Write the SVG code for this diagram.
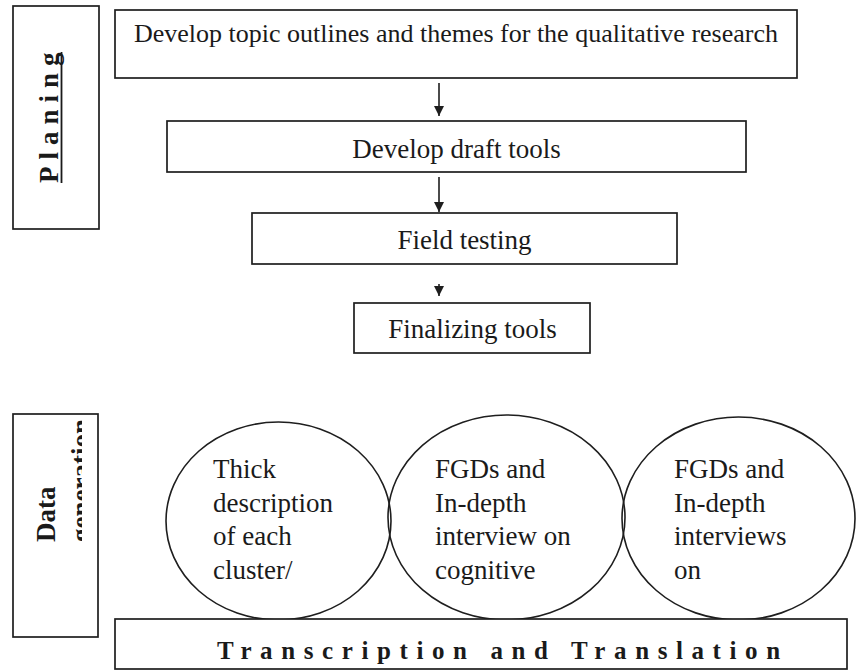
<svg xmlns="http://www.w3.org/2000/svg" width="857" height="672" viewBox="0 0 857 672">
<style>
.box{fill:#fff;stroke:#1e1e1e;stroke-width:1.7}
.ell{fill:none;stroke:#1e1e1e;stroke-width:1.6}
.t{font-family:"Liberation Serif","Times New Roman",serif;fill:#1a1a1a}
.lbl{font-size:27px;text-anchor:middle}
.cir{font-size:27px}
.side{font-weight:bold;font-size:27px}
.conn{stroke:#1e1e1e;stroke-width:1.6;fill:none}
</style>
<defs>
<marker id="ah" viewBox="0 0 10 10" refX="10" refY="5" markerWidth="10" markerHeight="10" markerUnits="userSpaceOnUse" orient="auto">
<path d="M0,0 L10,5 L0,10 z" fill="#1e1e1e"/>
</marker>
<clipPath id="clipGen"><rect x="60" y="414" width="22" height="140"/></clipPath>
</defs>
<rect width="857" height="672" fill="#fff"/>

<g id="planing">
<rect class="box" x="13" y="6" width="86" height="223"/>
<text class="t side" transform="translate(58,183) rotate(-90)" letter-spacing="7">Planing</text>
<line x1="61.5" y1="52" x2="61.5" y2="183" stroke="#1a1a1a" stroke-width="1.8"/>
</g>

<g id="topics">
<rect class="box" x="115" y="10" width="682" height="68"/>
<text class="t" x="456" y="42" font-size="26" text-anchor="middle">Develop topic outlines and themes for the qualitative research</text>
</g>

<g id="draft">
<rect class="box" x="167" y="121" width="579" height="51"/>
<text class="t lbl" x="456.5" y="158">Develop draft tools</text>
</g>

<g id="field">
<rect class="box" x="252" y="213" width="425" height="51"/>
<text class="t lbl" x="464.5" y="249">Field testing</text>
</g>

<g id="final">
<rect class="box" x="354" y="303" width="236" height="50"/>
<text class="t lbl" x="472.5" y="338">Finalizing tools</text>
</g>

<g id="connectors">
<line class="conn" x1="439" y1="83" x2="439" y2="116" marker-end="url(#ah)"/>
<line class="conn" x1="439" y1="177" x2="439" y2="212" marker-end="url(#ah)"/>
<line class="conn" x1="439" y1="284" x2="439" y2="296" marker-end="url(#ah)"/>
</g>

<g id="data">
<rect class="box" x="13" y="414" width="85" height="223"/>
<text class="t side" transform="translate(55,542) rotate(-90)">Data</text>
<g clip-path="url(#clipGen)">
<text class="t side" transform="translate(89.5,542) rotate(-90)">generation</text>
</g>
</g>

<g id="thick">
<ellipse class="ell" cx="278.5" cy="521" rx="112.5" ry="99"/>
<text class="t cir" x="213" y="478">Thick</text>
<text class="t cir" x="213" y="511.5">description</text>
<text class="t cir" x="213" y="545">of each</text>
<text class="t cir" x="213" y="578.5">cluster/</text>
</g>

<g id="fgd-cognitive">
<ellipse class="ell" cx="506.5" cy="517.5" rx="118.5" ry="102.5"/>
<text class="t cir" x="435" y="478">FGDs and</text>
<text class="t cir" x="435" y="511.5">In-depth</text>
<text class="t cir" x="435" y="545">interview on</text>
<text class="t cir" x="435" y="578.5">cognitive</text>
</g>

<g id="fgd-interviews">
<ellipse class="ell" cx="738.5" cy="518.5" rx="116.5" ry="101.5"/>
<text class="t cir" x="674" y="478">FGDs and</text>
<text class="t cir" x="674" y="511.5">In-depth</text>
<text class="t cir" x="674" y="545">interviews</text>
<text class="t cir" x="674" y="578.5">on</text>
</g>

<g id="transcription">
<rect class="box" x="115" y="619" width="732" height="50"/>
<text class="t" x="217" y="659" font-size="25" font-weight="bold" letter-spacing="8.6">Transcription and Translation</text>
</g>
</svg>
